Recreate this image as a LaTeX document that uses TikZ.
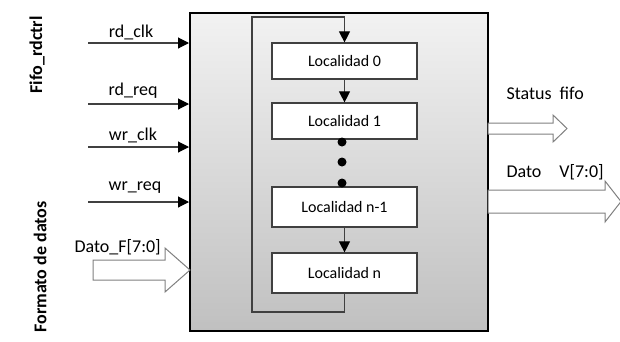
\documentclass[tikz,border=0pt]{standalone}
\usepackage{fontspec}
\setmainfont{Carlito}
\usetikzlibrary{arrows.meta}

\definecolor{boxtop}{RGB}{242,242,242}
\definecolor{boxbot}{RGB}{192,192,192}
\definecolor{edgegray}{RGB}{64,64,64}
\definecolor{blockgray}{RGB}{128,128,128}

\tikzset{
  fifobox/.style={draw=black, line width=2pt, top color=boxtop,
    bottom color=boxbot, minimum width=298pt, minimum height=318pt},
  locbox/.style={draw=edgegray, line width=1.2pt, fill=white,
    minimum width=145pt, font=\fontsize{16}{19}\selectfont},
  sigline/.style={draw=edgegray, line width=1.1pt,
    -{Triangle[length=11pt,width=11pt,color=black]}},
  siglabel/.style={font=\fontsize{18}{21}\selectfont},
  sidelabel/.style={font=\fontsize{18}{21}\selectfont\bfseries, rotate=90},
  blockarrow/.style={draw=blockgray, line width=1pt, fill=white},
  dotmark/.style={circle, fill=black, inner sep=0pt, minimum size=9pt}
}

\begin{document}
\begin{tikzpicture}[x=1pt, y=-1pt]
  \useasboundingbox (0,0) rectangle (620,341);

  % main fifo block
  \node[fifobox] (fifo) at (339,172) {};

  % memory locations
  \node[locbox, minimum height=36pt] (loc0) at (344.5,61) {Localidad 0};
  \node[locbox, minimum height=36pt] (loc1) at (344.5,121) {Localidad 1};
  \node[locbox, minimum height=40pt] (locm) at (344.5,207) {Localidad n-1};
  \node[locbox, minimum height=40pt] (locn) at (344.5,273) {Localidad n};

  \node[dotmark] (dot1) at (342,142) {};
  \node[dotmark] (dot2) at (342,162) {};
  \node[dotmark] (dot3) at (342,183) {};

  \draw[sigline] (loc0) -- (loc1);
  \draw[sigline] (locm) -- (locn);

  % loop back
  \coordinate (loopbl) at (252,312);
  \coordinate (looptl) at (252,17);
  \draw[sigline] (locn.south) |- (loopbl) -- (looptl) -| (loc0.north);

  % control inputs
  \coordinate (rdclk) at (88,43);
  \coordinate (rdreq) at (88,104);
  \coordinate (wrclk) at (88,147);
  \coordinate (wrreq) at (88,202);
  \draw[sigline] (rdclk) -- (rdclk -| fifo.west);
  \draw[sigline] (rdreq) -- (rdreq -| fifo.west);
  \draw[sigline] (wrclk) -- (wrclk -| fifo.west);
  \draw[sigline] (wrreq) -- (wrreq -| fifo.west);
  \node[siglabel] (lrdclk) at (131,32) {rd\_clk};
  \node[siglabel] (lrdreq) at (133,91) {rd\_req};
  \node[siglabel] (lwrclk) at (133,135) {wr\_clk};
  \node[siglabel] (lwrreq) at (135,188) {wr\_req};

  % data in
  \draw[blockarrow] (93,260) -- (165,260) -- (165,248) -- (190,270)
    -- (165,292) -- (165,280) -- (93,280) -- cycle;
  \node[siglabel, anchor=west] (ldatof) at (71,247) {Dato\_F[7:0]};

  % outputs
  \draw[blockarrow] (488,123) -- (553,123) -- (553,115) -- (567,128.5)
    -- (553,142) -- (553,134) -- (488,134) -- cycle;
  \node[siglabel, anchor=west] (lstatus) at (503,93) {Status\ \ fifo};
  \draw[blockarrow] (488,190) -- (605,190) -- (605,181) -- (621,201.5)
    -- (605,222) -- (605,213) -- (488,213) -- cycle;
  \node[siglabel, anchor=west] (ldatov) at (503,172)
    {Dato\hspace{18pt}V[7:0]};

  % side labels
  \node[sidelabel] (lfifo) at (37,55) {Fifo\_rdctrl};
  \node[sidelabel] (lformato) at (40,267) {Formato de datos};
\end{tikzpicture}
\end{document}
